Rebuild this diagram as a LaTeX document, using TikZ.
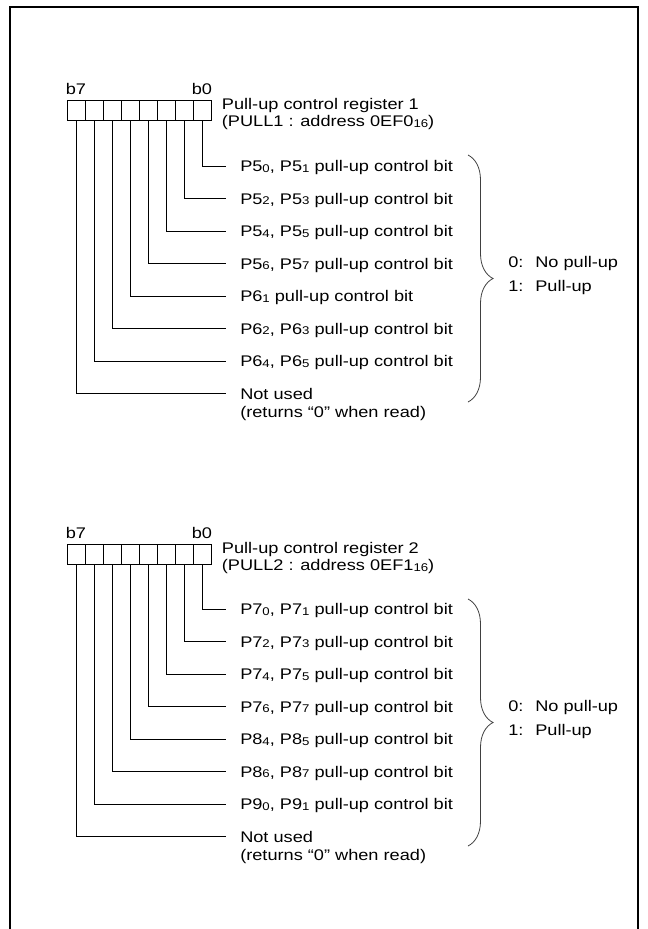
\documentclass[tikz,border=0pt]{standalone}
\usepackage{fontspec}
\setmainfont{Liberation Sans}[FakeStretch=1.18]
\usepackage{tikz}
\usetikzlibrary{positioning, decorations.pathreplacing}

\newcommand{\lsub}[1]{\raisebox{-0.6pt}{\fontsize{8.4pt}{8.4pt}\selectfont #1}}

\begin{document}
\begin{tikzpicture}[
    x=0.75pt, y=-0.75pt,
    font=\fontsize{11.55pt}{13.5pt}\selectfont,
    cell/.style={rectangle, draw, line width=0.75pt, minimum width=13.5pt, minimum height=15pt, inner sep=0pt, outer sep=0pt},
    bitno/.style={inner sep=0pt, text height=8.3pt, text depth=0pt},
    regname/.style={align=left, inner sep=0pt, font=\fontsize{11.55pt}{12.75pt}\selectfont},
    lbl/.style={anchor=west, inner xsep=10.5pt, inner ysep=0pt, text height=8.3pt, text depth=0pt},
    wire/.style={line width=0.75pt},
    grp/.style={decorate, decoration={brace, amplitude=18.75pt}, line width=0.6pt, black!75}
]
\useasboundingbox (0,0) rectangle (647,929);

% frame, open at the bottom
\draw[line width=1.1pt] (10,929) -- (10,7) -- (638,7) -- (638,929);

% register 1
\node[cell] (r1b7) at (76,110.5) {};
\node[cell, right=0pt of r1b7] (r1b6) {};
\node[cell, right=0pt of r1b6] (r1b5) {};
\node[cell, right=0pt of r1b5] (r1b4) {};
\node[cell, right=0pt of r1b4] (r1b3) {};
\node[cell, right=0pt of r1b3] (r1b2) {};
\node[cell, right=0pt of r1b2] (r1b1) {};
\node[cell, right=0pt of r1b1] (r1b0) {};
\node[bitno, above=4pt of r1b7] (r1hi) {b7};
\node[bitno, above=4pt of r1b0] (r1lo) {b0};
\node[regname, right=8pt of r1b0, anchor=west, yshift=-3pt] (r1name) {Pull-up control register 1\\(PULL1 : address 0EF0\lsub{16})};

\node[lbl] (r1l0) at (226,166)   {P5\lsub{0}, P5\lsub{1} pull-up control bit};
\node[lbl] (r1l1) at (226,198.5) {P5\lsub{2}, P5\lsub{3} pull-up control bit};
\node[lbl] (r1l2) at (226,231)   {P5\lsub{4}, P5\lsub{5} pull-up control bit};
\node[lbl] (r1l3) at (226,263.5) {P5\lsub{6}, P5\lsub{7} pull-up control bit};
\node[lbl] (r1l4) at (226,296)   {P6\lsub{1} pull-up control bit};
\node[lbl] (r1l5) at (226,328.5) {P6\lsub{2}, P6\lsub{3} pull-up control bit};
\node[lbl] (r1l6) at (226,361)   {P6\lsub{4}, P6\lsub{5} pull-up control bit};
\node[lbl] (r1l7) at (226,393.5) {Not used};
\node[lbl, below=5.2pt of r1l7.south west, anchor=north west] (r1n7) {(returns “0” when read)};

\draw[wire] (r1b0.south) |- (r1l0.west);
\draw[wire] (r1b1.south) |- (r1l1.west);
\draw[wire] (r1b2.south) |- (r1l2.west);
\draw[wire] (r1b3.south) |- (r1l3.west);
\draw[wire] (r1b4.south) |- (r1l4.west);
\draw[wire] (r1b5.south) |- (r1l5.west);
\draw[wire] (r1b6.south) |- (r1l6.west);
\draw[wire] (r1b7.south) |- (r1l7.west);

\coordinate (r1top) at (468,155);
\coordinate (r1bot) at (468,402);
\draw[grp] (r1top) -- (r1bot);
\node[anchor=west, inner sep=0pt] (r1val) at (508,276) {\begin{tabular}{@{}l@{\hspace{8.9pt}}l@{}}0: & No pull-up\\[4.5pt] 1: & Pull-up\end{tabular}};

% register 2
\node[cell] (r2b7) at (76,554.5) {};
\node[cell, right=0pt of r2b7] (r2b6) {};
\node[cell, right=0pt of r2b6] (r2b5) {};
\node[cell, right=0pt of r2b5] (r2b4) {};
\node[cell, right=0pt of r2b4] (r2b3) {};
\node[cell, right=0pt of r2b3] (r2b2) {};
\node[cell, right=0pt of r2b2] (r2b1) {};
\node[cell, right=0pt of r2b1] (r2b0) {};
\node[bitno, above=4pt of r2b7] (r2hi) {b7};
\node[bitno, above=4pt of r2b0] (r2lo) {b0};
\node[regname, right=8pt of r2b0, anchor=west, yshift=-3pt] (r2name) {Pull-up control register 2\\(PULL2 : address 0EF1\lsub{16})};

\node[lbl] (r2l0) at (226,609)   {P7\lsub{0}, P7\lsub{1} pull-up control bit};
\node[lbl] (r2l1) at (226,641.5) {P7\lsub{2}, P7\lsub{3} pull-up control bit};
\node[lbl] (r2l2) at (226,674)   {P7\lsub{4}, P7\lsub{5} pull-up control bit};
\node[lbl] (r2l3) at (226,706.5) {P7\lsub{6}, P7\lsub{7} pull-up control bit};
\node[lbl] (r2l4) at (226,739)   {P8\lsub{4}, P8\lsub{5} pull-up control bit};
\node[lbl] (r2l5) at (226,771.5) {P8\lsub{6}, P8\lsub{7} pull-up control bit};
\node[lbl] (r2l6) at (226,804)   {P9\lsub{0}, P9\lsub{1} pull-up control bit};
\node[lbl] (r2l7) at (226,836.5) {Not used};
\node[lbl, below=5.2pt of r2l7.south west, anchor=north west] (r2n7) {(returns “0” when read)};

\draw[wire] (r2b0.south) |- (r2l0.west);
\draw[wire] (r2b1.south) |- (r2l1.west);
\draw[wire] (r2b2.south) |- (r2l2.west);
\draw[wire] (r2b3.south) |- (r2l3.west);
\draw[wire] (r2b4.south) |- (r2l4.west);
\draw[wire] (r2b5.south) |- (r2l5.west);
\draw[wire] (r2b6.south) |- (r2l6.west);
\draw[wire] (r2b7.south) |- (r2l7.west);

\coordinate (r2top) at (468,599);
\coordinate (r2bot) at (468,846);
\draw[grp] (r2top) -- (r2bot);
\node[anchor=west, inner sep=0pt] (r2val) at (508,720) {\begin{tabular}{@{}l@{\hspace{8.9pt}}l@{}}0: & No pull-up\\[4.5pt] 1: & Pull-up\end{tabular}};

\end{tikzpicture}
\end{document}
